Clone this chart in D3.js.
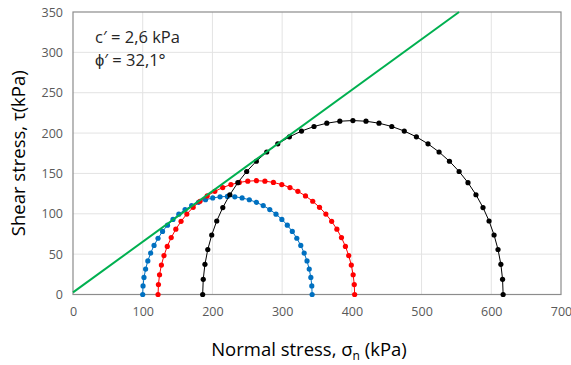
<!DOCTYPE html>
<html>
<head>
<meta charset="utf-8">
<script src="https://cdn.jsdelivr.net/npm/d3@7"></script>
<style>
  body { margin: 0; background: #fff; }
  svg { font-family: "Open Sans", "Liberation Sans", sans-serif; }
</style>
</head>
<body>
<div id="chart"></div>
<script>
// Mohr circles from three tests: principal stresses (kPa)
const sigma3 = [100, 122, 186];
const sigma1 = [343, 404, 617];
const circleColors = ["#0070C0", "#FF0000", "#000000"];
// Failure envelope
const cohesion = 2.6;
const phiDeg = 32.1;
const xTicks = [0, 100, 200, 300, 400, 500, 600, 700];
const yTicks = [0, 50, 100, 150, 200, 250, 300, 350];
const angleStepDeg = 5;

const W = 571, H = 365;
const margin = { top: 12, right: 10, bottom: 70, left: 73 };
const width = 561 - margin.left;
const height = 294.5 - margin.top;

const svg = d3.select("#chart").append("svg")
    .attr("width", W)
    .attr("height", H);

const g = svg.append("g")
    .attr("transform", `translate(${margin.left},${margin.top})`);

const x = d3.scaleLinear().domain([0, 700]).range([0, width]);
const y = d3.scaleLinear().domain([0, 350]).range([height, 0]);

// gridlines
g.append("g").selectAll("line").data(xTicks.slice(1, -1)).join("line")
    .attr("x1", d => x(d)).attr("x2", d => x(d))
    .attr("y1", 0).attr("y2", height)
    .attr("stroke", "#e3e3e3").attr("stroke-width", 1);
g.append("g").selectAll("line").data(yTicks.slice(1, -1)).join("line")
    .attr("x1", 0).attr("x2", width)
    .attr("y1", d => y(d)).attr("y2", d => y(d))
    .attr("stroke", "#e3e3e3").attr("stroke-width", 1);

// plot border
g.append("rect")
    .attr("width", width).attr("height", height)
    .attr("fill", "none").attr("stroke", "#8c8c8c").attr("stroke-width", 1.2);

// axes (labels only)
const xAxis = g.append("g")
    .attr("transform", `translate(0,${height})`)
    .call(d3.axisBottom(x).tickValues(xTicks).tickSize(0).tickPadding(13));
const yAxis = g.append("g")
    .call(d3.axisLeft(y).tickValues(yTicks).tickSize(0).tickPadding(10));
[xAxis, yAxis].forEach(a => {
    a.select(".domain").remove();
    a.selectAll("text")
        .attr("fill", "#595959")
        .style("font-size", "12.5px")
        .style("font-family", "'Open Sans', sans-serif");
});

// Mohr circles
const line = d3.line().x(d => x(d[0])).y(d => y(d[1]));
const angles = d3.range(0, 180 + angleStepDeg / 2, angleStepDeg);

sigma3.forEach((s3, i) => {
    const c = (sigma1[i] + s3) / 2;
    const r = (sigma1[i] - s3) / 2;
    const pts = angles.map(a => {
        const t = a * Math.PI / 180;
        return [c + r * Math.cos(t), r * Math.sin(t)];
    });
    g.append("path")
        .datum(pts)
        .attr("d", line)
        .attr("fill", "none")
        .attr("stroke", circleColors[i])
        .attr("stroke-width", 1);
    g.append("g").selectAll("circle").data(pts).join("circle")
        .attr("cx", d => x(d[0]))
        .attr("cy", d => y(d[1]))
        .attr("r", 2.6)
        .attr("fill", circleColors[i]);
});

// failure envelope
const tanPhi = Math.tan(phiDeg * Math.PI / 180);
const sigmaEnd = (350 - cohesion) / tanPhi;
g.append("path")
    .datum([[0, cohesion], [sigmaEnd, 350]])
    .attr("d", line)
    .attr("fill", "none")
    .attr("stroke", "#00B050")
    .attr("stroke-width", 2);

// annotation
const ann = svg.append("g")
    .attr("fill", "#262626")
    .style("font-size", "16.5px");
ann.append("text").attr("x", 95).attr("y", 43).text("c\u2032 = 2,6 kPa");
ann.append("text").attr("x", 95).attr("y", 66).text("\u03D5\u2032 = 32,1\u00B0");

// axis titles
const xt = svg.append("text")
    .attr("x", 309).attr("y", 356)
    .attr("text-anchor", "middle")
    .attr("fill", "#000")
    .style("font-size", "18.5px");
xt.append("tspan").text("Normal stress, \u03C3");
xt.append("tspan").attr("dy", 4).style("font-size", "12px").text("n");
xt.append("tspan").attr("dy", -4).text(" (kPa)");

svg.append("text")
    .attr("transform", `translate(25,${margin.top + height / 2}) rotate(-90)`)
    .attr("text-anchor", "middle")
    .attr("fill", "#000")
    .style("font-size", "18.5px")
    .text("Shear stress, \u03C4(kPa)");
</script>
</body>
</html>
